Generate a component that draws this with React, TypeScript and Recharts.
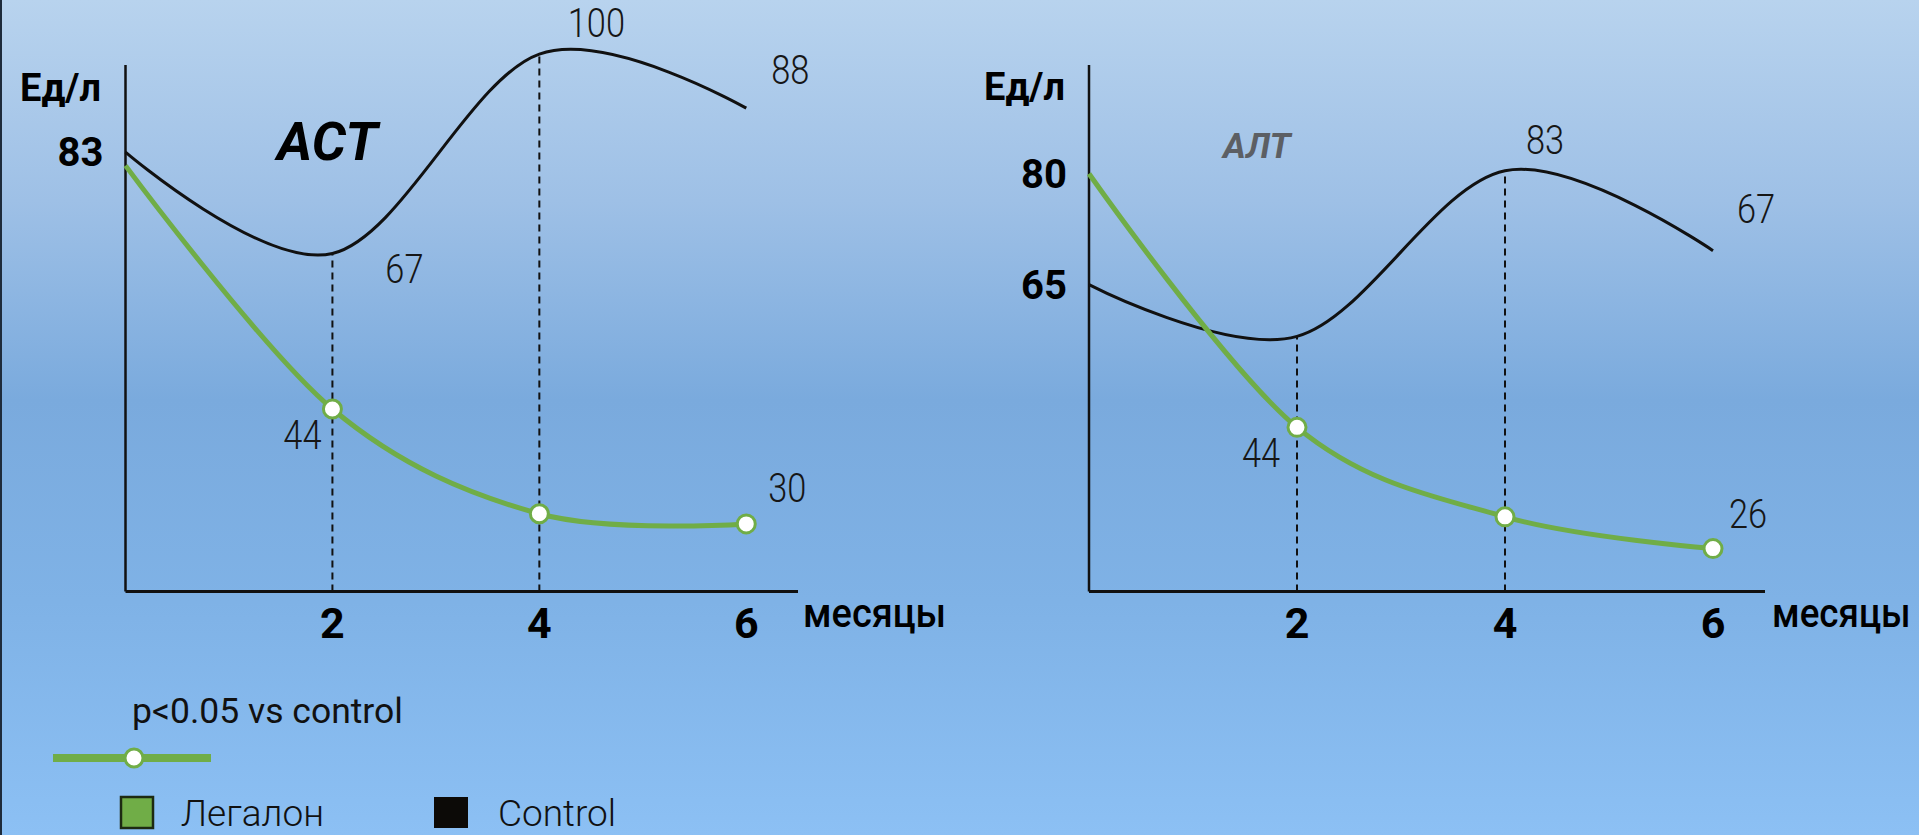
import React from 'react'
import { LineChart, Line, XAxis, YAxis, ReferenceLine, LabelList } from 'recharts'

// months on the x axis
const months = [0, 2, 4, 6]
const monthTicks = [2, 4, 6]

const astControl = [83, 68, 97.5, 89.5]
const astLegalon = [81, 45, 29.5, 28]
const astControlLabels = ['', '67', '100', '88']
const astLegalonLabels = ['', '44', '', '30']
const astTicks = [83]

// АЛТ panel (Ед/л)
const altControl = [65, 58, 80.4, 69.6]
const altLegalon = [80, 45.7, 33.6, 29.3]
const altControlLabels = ['', '', '83', '67']
const altLegalonLabels = ['', '44', '', '26']
const altTicks = [80, 65]

const GREEN = '#70AD47'
const INK = '#111111'
const FONT = 'Roboto, "Noto Sans", sans-serif'

// label placement next to each point (baseline centre, px)
const astControlOffsets = [[0, 0], [72, 29], [57, -17], [44, -24]]
const astLegalonOffsets = [[0, 0], [-30, 40], [0, 0], [41, -22]]
const altControlOffsets = [[0, 0], [0, 0], [40, -17], [43, -28]]
const altLegalonOffsets = [[0, 0], [-36, 40], [0, 0], [35, -21]]

// cardinal spline with tension 0 (catmull-rom), same maths as d3.curveCardinal
function smoothCurve(context: any) {
  const k = 1 / 6
  let x0 = NaN, x1 = NaN, x2 = NaN, y0 = NaN, y1 = NaN, y2 = NaN
  let n = 0
  let line = NaN
  const seg = (x: number, y: number) => {
    context.bezierCurveTo(
      x1 + k * (x2 - x0), y1 + k * (y2 - y0),
      x2 + k * (x1 - x), y2 + k * (y1 - y),
      x2, y2,
    )
  }
  return {
    areaStart() { line = 0 },
    areaEnd() { line = NaN },
    lineStart() { x0 = x1 = x2 = y0 = y1 = y2 = NaN; n = 0 },
    lineEnd() {
      if (n === 2) context.lineTo(x2, y2)
      else if (n === 3) seg(x1, y1)
      if (line || (line !== 0 && n === 1)) context.closePath()
      line = 1 - line
    },
    point(x: number, y: number) {
      x = +x; y = +y
      if (n === 0) {
        n = 1
        if (line) context.lineTo(x, y)
        else context.moveTo(x, y)
      } else if (n === 1) {
        n = 2; x1 = x; y1 = y
      } else {
        n = 3; seg(x, y)
      }
      x0 = x1; x1 = x2; x2 = x
      y0 = y1; y1 = y2; y2 = y
    },
  }
}

function Txt({ x, y, size, weight = 400, italic = false, fill = '#000', anchor = 'start', sx = 1, children }: any) {
  return (
    <text
      transform={`translate(${x} ${y}) scale(${sx} 1)`}
      fontSize={size}
      fontWeight={weight}
      fontStyle={italic ? 'italic' : 'normal'}
      fill={fill}
      textAnchor={anchor}
      fontFamily={FONT}
    >
      {children}
    </text>
  )
}

const renderDot = (props: any) => {
  const { cx, cy, index } = props
  if (index === 0) return <g key={`dot-${index}`} />
  return <circle key={`dot-${index}`} cx={cx} cy={cy} r={9} fill="#fff" stroke={GREEN} strokeWidth={3} />
}

function valueLabel(texts: string[], offsets: number[][]) {
  return (props: any) => {
    const index = props.index
    const t = texts[index]
    if (!t) return null
    const px = props.viewBox?.x ?? props.x
    const py = props.viewBox?.y ?? props.y
    const [dx, dy] = offsets[index]
    return (
      <Txt key={`lbl-${index}`} x={px + dx} y={py + dy} size={40} weight={300} fill="#161616" anchor="middle" sx={0.86}>
        {t}
      </Txt>
    )
  }
}

type PanelProps = {
  left: number
  width: number
  plotLeft: number
  plotRight: number
  yDomain: [number, number]
  axisTop: number
  yTicks: number[]
  control: number[]
  legalon: number[]
  controlLabels: string[]
  legalonLabels: string[]
  controlOffsets: number[][]
  legalonOffsets: number[][]
}

const PLOT_BOTTOM = 591.5
const X_AXIS_H = 60
const Y_AXIS_W = 100

function Panel(p: PanelProps) {
  const rows = months.map((m, i) => ({ m, control: p.control[i], legalon: p.legalon[i] }))
  return (
    <div style={{ position: 'absolute', left: p.left, top: 0, fontFamily: FONT }}>
      <LineChart
        width={p.width}
        height={835}
        data={rows}
        margin={{ top: 0, left: p.plotLeft - Y_AXIS_W, right: p.width - p.plotRight, bottom: 835 - PLOT_BOTTOM - X_AXIS_H }}
      >
        <XAxis
          dataKey="m"
          type="number"
          domain={[0, 6.5]}
          ticks={monthTicks}
          interval={0}
          height={X_AXIS_H}
          axisLine={{ stroke: INK, strokeWidth: 3 }}
          tickLine={false}
          tickSize={0}
          tickMargin={16}
          tick={{ fill: '#000', fontSize: 43, fontWeight: 700 }}
        />
        <YAxis
          type="number"
          domain={p.yDomain}
          ticks={p.yTicks}
          interval={0}
          width={Y_AXIS_W}
          axisLine={false}
          tickLine={false}
          tickSize={0}
          tickMargin={22}
          tick={{ fill: '#000', fontSize: 40, fontWeight: 700 }}
        />
        <ReferenceLine
          segment={[{ x: 0, y: p.yDomain[0] }, { x: 0, y: p.axisTop }]}
          stroke={INK}
          strokeWidth={2.5}
          ifOverflow="visible"
        />
        {[1, 2].map((i) => (
          <ReferenceLine
            key={`drop-${i}`}
            segment={[{ x: months[i], y: p.yDomain[0] }, { x: months[i], y: p.control[i] }]}
            stroke={INK}
            strokeWidth={2}
            strokeDasharray="7 5"
            ifOverflow="visible"
          />
        ))}
        <Line dataKey="control" type={smoothCurve as any} stroke={INK} strokeWidth={3} dot={false} isAnimationActive={false}>
          <LabelList dataKey="control" content={valueLabel(p.controlLabels, p.controlOffsets)} />
        </Line>
        <Line dataKey="legalon" type={smoothCurve as any} stroke={GREEN} strokeWidth={5} dot={renderDot} activeDot={false} isAnimationActive={false}>
          <LabelList dataKey="legalon" content={valueLabel(p.legalonLabels, p.legalonOffsets)} />
        </Line>
      </LineChart>
    </div>
  )
}

export default function App() {
  return (
    <div
      style={{
        position: 'fixed',
        left: 0,
        top: 0,
        width: 1919,
        height: 835,
        overflow: 'hidden',
        background: 'linear-gradient(to bottom, #B8D3EE 0%, #9EC0E6 24%, #7AAADD 48%, #7FB2E6 72%, #8CC0F4 100%)',
      }}
    >
      <div style={{ position: 'absolute', left: 0, top: 0, width: 2, height: 835, background: '#1e2b3b' }} />
      <Panel
        left={0}
        width={960}
        plotLeft={125.5}
        plotRight={798}
        yDomain={[18, 105.5]}
        axisTop={95.9}
        yTicks={astTicks}
        control={astControl}
        legalon={astLegalon}
        controlLabels={astControlLabels}
        legalonLabels={astLegalonLabels}
        controlOffsets={astControlOffsets}
        legalonOffsets={astLegalonOffsets}
      />
      <Panel
        left={960}
        width={959}
        plotLeft={129}
        plotRight={805}
        yDomain={[23.5, 103.5]}
        axisTop={94.7}
        yTicks={altTicks}
        control={altControl}
        legalon={altLegalon}
        controlLabels={altControlLabels}
        legalonLabels={altLegalonLabels}
        controlOffsets={altControlOffsets}
        legalonOffsets={altLegalonOffsets}
      />
      <svg width={1919} height={835} style={{ position: 'absolute', left: 0, top: 0, pointerEvents: 'none' }}>
        <Txt x={20} y={101} size={38} weight={700}>Ед/л</Txt>
        <Txt x={984} y={100} size={38} weight={700}>Ед/л</Txt>
        <Txt x={277} y={160} size={54} weight={700} italic>АСТ</Txt>
        <Txt x={1223} y={158} size={35} weight={700} italic fill="#5c5f64">АЛТ</Txt>
        <Txt x={803} y={627} size={40} weight={500} sx={0.95}>месяцы</Txt>
        <Txt x={1772} y={627} size={40} weight={500} sx={0.92}>месяцы</Txt>

        <Txt x={132} y={723} size={35.5} weight={400} fill="#111">p&lt;0.05 vs control</Txt>
        <line x1={53} y1={758} x2={211} y2={758} stroke={GREEN} strokeWidth={8} />
        <circle cx={134} cy={758} r={9} fill="#fff" stroke={GREEN} strokeWidth={3} />
        <rect x={121} y={797} width={32} height={31} fill={GREEN} stroke="#1d2a12" strokeWidth={2.5} />
        <Txt x={181} y={826} size={37} weight={300} fill="#111">Легалон</Txt>
        <rect x={434} y={797} width={34} height={31} fill="#0c0a07" />
        <Txt x={498} y={826} size={37} weight={300} fill="#111">Control</Txt>
      </svg>
    </div>
  )
}
